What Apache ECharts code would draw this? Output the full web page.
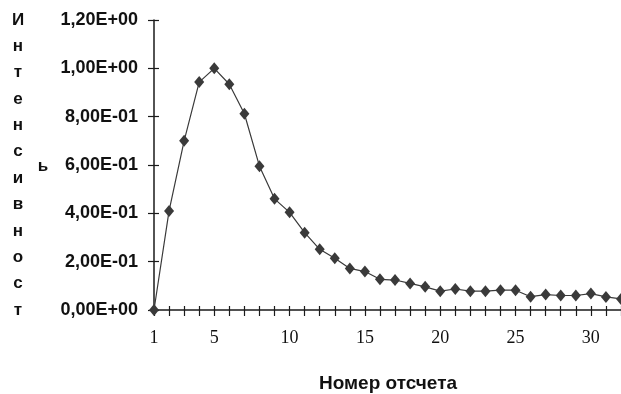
<!DOCTYPE html>
<html>
<head>
<meta charset="utf-8">
<script src="https://cdn.jsdelivr.net/npm/echarts@6/dist/echarts.min.js"></script>
<style>html,body{margin:0;padding:0;background:#fff;}#c{width:621px;height:394px;}</style>
</head>
<body>
<div id="c"></div>
<script>
var categories = ['1','2','3','4','5','6','7','8','9','10','11','12','13','14','15','16','17','18','19','20','21','22','23','24','25','26','27','28','29','30','31','32'];
var intensity = [0, 0.41, 0.70, 0.943, 1.0, 0.934, 0.812, 0.595, 0.46, 0.404, 0.32, 0.251, 0.214, 0.172, 0.159, 0.127, 0.124, 0.110, 0.096, 0.078, 0.087, 0.078, 0.078, 0.082, 0.082, 0.055, 0.064, 0.060, 0.060, 0.068, 0.054, 0.046];
var xShownLabels = ['1','5','10','15','20','25','30'];
var yTickLabels = ['0,00E+00','2,00E-01','4,00E-01','6,00E-01','8,00E-01','1,00E+00','1,20E+00'];
var yTitleLetters = ['И','н','т','е','н','с','и','в','н','о','с','т'];
var yTitleTail = 'ь';
var xTitle = 'Номер отсчета';

var chart = echarts.init(document.getElementById('c'), null, {renderer:'canvas'});
var axisColor = '#1a1a1a';
var gridDef = {left:154, top:20, width:31*15.12, height:290};
function yFmt(v){ return yTickLabels[Math.round(v/0.2)] || ''; }
var letterFont = 'bold 17px "Liberation Sans", Arial, sans-serif';
var letterGraphics = yTitleLetters.map(function(ch, i){
  return {type:'text', x:18, y:20 + i*26.36,
    style:{text:ch, font:letterFont, fill:'#111', align:'center', verticalAlign:'middle'}};
});
letterGraphics.push({type:'text', x:43, y:166, style:{text:yTitleTail, font:letterFont, fill:'#111', align:'center', verticalAlign:'middle'}});
letterGraphics.push({type:'text', x:388, y:384, style:{text:xTitle, font:'bold 19px "Liberation Sans", Arial, sans-serif', fill:'#111', align:'center', verticalAlign:'middle'}});

var option = {
  animation:false,
  backgroundColor:'#fff',
  grid: gridDef,
  xAxis: [{
    type:'category', data:categories, boundaryGap:false, position:'bottom',
    axisLine:{lineStyle:{color:axisColor, width:1.5}},
    axisTick:{show:true, interval:0, length:6, lineStyle:{color:axisColor, width:1.2}},
    axisLabel:{margin:19, color:'#111', fontFamily:'"Liberation Serif", "Times New Roman", serif', fontSize:18,
      interval:function(i, v){ return xShownLabels.indexOf(v) >= 0; }},
    splitLine:{show:false}
  },{
    type:'category', data:categories, boundaryGap:false, position:'bottom',
    axisLine:{show:false},
    axisTick:{show:true, inside:true, interval:0, length:4, lineStyle:{color:axisColor, width:1.2}},
    axisLabel:{show:false}, splitLine:{show:false}
  }],
  yAxis: [{
    type:'value', min:0, max:1.2, interval:0.2,
    axisLine:{show:true, lineStyle:{color:axisColor, width:1.5}},
    axisTick:{show:true, length:6, lineStyle:{color:axisColor, width:1.2}},
    axisLabel:{margin:16, color:'#111', fontFamily:'"Liberation Sans", Arial, sans-serif', fontWeight:'bold', fontSize:18, formatter:yFmt},
    splitLine:{show:false}
  },{
    type:'value', min:0, max:1.2, interval:0.2, position:'left',
    axisLine:{show:false},
    axisTick:{show:true, inside:true, length:5, lineStyle:{color:axisColor, width:1.2}},
    axisLabel:{show:false}, splitLine:{show:false}
  }],
  graphic: letterGraphics,
  series: [{
    type:'line', data:intensity, xAxisIndex:0, yAxisIndex:0,
    symbol:'diamond', symbolSize:[10,12], showAllSymbol:true,
    lineStyle:{color:'#3a3a3a', width:1.2},
    itemStyle:{color:'#3a3a3a'}
  }]
};
chart.setOption(option);
</script>
</body>
</html>
